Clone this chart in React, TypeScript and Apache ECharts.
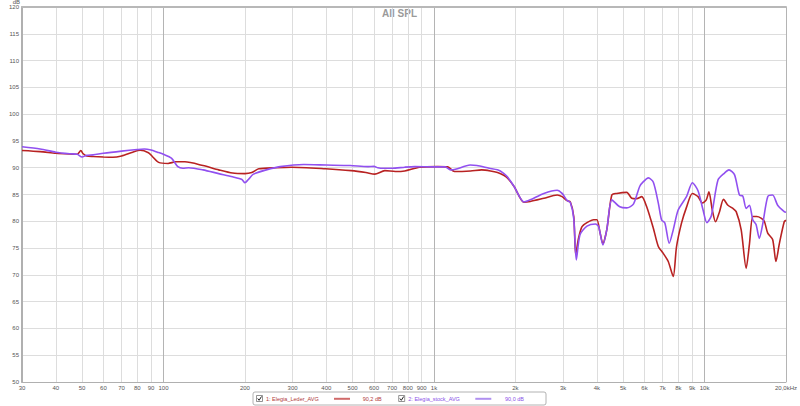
import React, { useEffect, useRef } from "react";
import * as echarts from "echarts";

// Tick frequencies and labels of the log frequency axis
const tickFreqs = [30, 40, 50, 60, 70, 80, 90, 100, 200, 300, 400, 500, 600, 700, 800, 900, 1000, 2000, 3000, 4000, 5000, 6000, 7000, 8000, 9000, 10000, 20000];
const tickLabels = ["30", "40", "50", "60", "70", "80", "90", "100", "200", "300", "400", "500", "600", "700", "800", "900", "1k", "2k", "3k", "4k", "5k", "6k", "7k", "8k", "9k", "10k", "20,0kHz"];
const decadeFreqs = [100, 1000, 10000, 20000];

// Series 1: Elegia_Leder_AVG
const lederFreq = [30, 35, 40, 45, 48, 49.5, 50.5, 52, 55, 60, 65, 70, 77, 82, 88, 91, 96, 104, 111, 120, 140, 160, 180, 200, 212, 225, 260, 297, 397, 494, 560, 604, 658, 720, 779, 884, 1032, 1124, 1190, 1365, 1500, 1617, 1717, 1810, 1867, 1977, 2151, 2268, 2547, 2852, 2975, 3103, 3191, 3285, 3340, 3420, 3524, 3676, 3892, 4002, 4104, 4209, 4354, 4541, 4737, 5158, 5381, 5613, 5856, 6112, 6467, 6747, 7037, 7342, 7660, 7875, 8214, 8573, 9017, 9460, 9810, 10150, 10380, 10680, 10980, 11360, 11750, 12200, 12730, 13090, 13660, 14250, 14650, 15080, 15590, 16170, 16630, 17120, 17850, 18360, 18880, 19700, 20000];
const lederDb = [93.2, 93.0, 92.7, 92.55, 92.5, 93.2, 92.6, 92.2, 92.1, 92.0, 91.95, 92.2, 92.9, 93.25, 92.8, 92.1, 91.0, 90.8, 91.1, 91.1, 90.4, 89.6, 89.0, 88.9, 89.1, 89.8, 90.0, 90.1, 89.8, 89.45, 89.1, 88.8, 89.45, 89.3, 89.4, 90.1, 90.2, 90.15, 89.3, 89.4, 89.6, 89.4, 89.1, 88.6, 88.1, 86.5, 83.55, 83.7, 84.3, 84.9, 84.6, 83.85, 83.6, 80.9, 73.8, 76.8, 79.0, 79.75, 80.3, 80.3, 78.0, 75.8, 78.5, 84.9, 85.2, 85.4, 84.3, 84.2, 84.6, 82.7, 78.7, 75.3, 74.0, 72.5, 69.7, 75.2, 79.6, 82.6, 85.2, 84.6, 83.4, 84.0, 85.5, 82.1, 79.9, 81.8, 84.1, 83.0, 82.4, 81.8, 78.4, 71.2, 75.7, 80.9, 80.9, 80.6, 80.0, 77.8, 76.6, 72.5, 75.7, 79.9, 80.2];

// Series 2: Elegia_stock_AVG
const stockFreq = [30, 35, 40, 45, 48, 50, 52, 55, 60, 70, 80, 85, 90, 95, 100, 107, 113, 118, 124, 140, 160, 180, 195, 200, 206, 215, 240, 270, 330, 400, 490, 570, 600, 620, 650, 700, 780, 850, 1000, 1100, 1150, 1200, 1360, 1440, 1600, 1717, 1810, 1867, 1977, 2151, 2268, 2547, 2852, 2975, 3103, 3191, 3285, 3357, 3464, 3676, 3950, 4060, 4209, 4354, 4541, 4860, 5158, 5458, 5757, 5942, 6200, 6467, 6747, 6937, 7134, 7404, 7660, 7988, 8573, 9017, 9460, 9874, 10200, 10590, 11210, 11850, 12310, 12900, 13460, 13850, 14250, 14650, 15080, 15500, 15940, 16410, 17120, 17850, 18630, 19700, 20000];
const stockDb = [93.9, 93.5, 92.9, 92.6, 92.5, 92.0, 92.3, 92.4, 92.7, 93.1, 93.4, 93.5, 93.3, 92.9, 92.5, 91.8, 90.2, 89.9, 90.0, 89.6, 88.9, 88.3, 87.8, 87.2, 87.8, 88.8, 89.6, 90.2, 90.6, 90.5, 90.4, 90.2, 90.25, 90.0, 89.9, 89.9, 90.1, 90.2, 90.15, 90.15, 89.6, 89.7, 90.5, 90.4, 89.9, 89.6, 88.95, 88.3, 86.5, 83.6, 84.0, 85.2, 85.8, 85.2, 83.9, 83.5, 80.5, 72.8, 77.5, 79.1, 79.5, 79.0, 75.6, 78.5, 84.0, 82.7, 82.5, 83.2, 86.5, 87.4, 88.1, 87.3, 83.4, 80.25, 79.7, 75.9, 78.4, 82.1, 84.6, 87.2, 85.7, 82.1, 79.75, 81.0, 87.7, 89.0, 89.6, 88.7, 84.9, 84.7, 82.4, 83.0, 80.25, 79.4, 76.8, 79.5, 84.6, 84.9, 83.0, 81.8, 81.7];

const legendNames = ["1: Elegia_Leder_AVG", "2: Elegia_stock_AVG"];
const legendValues = ["90,2 dB", "90,0 dB"];

const FONT = "Liberation Sans, Arial, sans-serif";

export default function App() {
  const ref = useRef<HTMLDivElement>(null);

  useEffect(() => {
    if (!ref.current) return;
    const chart = echarts.init(ref.current, null, { renderer: "svg" });
    const lg = Math.log10;
    const tickPos = tickFreqs.map(lg);
    const decadePos = decadeFreqs.map(lg);
    const xmin = lg(30);
    const xmax = lg(20000);

    const fmt = (v: number) => {
      let best = 0;
      let bd = Infinity;
      tickPos.forEach((p, i) => {
        const d = Math.abs(p - v);
        if (d < bd) { bd = d; best = i; }
      });
      return tickLabels[best];
    };

    const checkbox = (x: number, y: number) => [
      { type: "rect", shape: { x, y, width: 6, height: 6 }, style: { fill: "#fff", stroke: "#777", lineWidth: 0.8 } },
      { type: "polyline", shape: { points: [[x + 1.2, y + 3], [x + 2.6, y + 4.8], [x + 5, y + 1]] }, style: { fill: null, stroke: "#222", lineWidth: 1 } },
    ];

    const option: any = {
      animation: false,
      backgroundColor: "#fff",
      grid: { left: 22, right: 10, top: 7, bottom: 24, show: false },
      xAxis: [
        {
          type: "value",
          min: xmin,
          max: xmax,
          position: "bottom",
          axisLine: { show: true, onZero: false, lineStyle: { color: "#b0b0b0", width: 1 } },
          axisTick: { show: false, customValues: tickPos },
          axisLabel: { customValues: tickPos, formatter: fmt, fontSize: 6, color: "#555", margin: 3, fontFamily: FONT, showMinLabel: true, showMaxLabel: true },
          splitLine: { show: true, lineStyle: { color: "#dddddd", width: 1 } },
        },
        {
          type: "value",
          min: xmin,
          max: xmax,
          position: "top",
          axisLine: { show: true, onZero: false, lineStyle: { color: "#b8b8b8", width: 2 } },
          axisTick: { show: false, customValues: decadePos },
          axisLabel: { show: false },
          splitLine: { show: true, lineStyle: { color: "#b4b4b4", width: 1 } },
        },
      ],
      yAxis: {
        type: "value",
        min: 50,
        max: 120,
        interval: 5,
        axisLine: { show: true, onZero: false, lineStyle: { color: "#b0b0b0", width: 2 } },
        axisTick: { show: false },
        axisLabel: { fontSize: 6, color: "#555", margin: 3, fontFamily: FONT },
        splitLine: { show: true, lineStyle: { color: "#dddddd", width: 1 } },
      },
      series: [
        {
          type: "line",
          xAxisIndex: 0,
          showSymbol: false,
          smooth: 0.25,
          lineStyle: { color: "#b82222", width: 1.6 },
          data: lederFreq.map((f, i) => [lg(f), lederDb[i]]),
        },
        {
          type: "line",
          xAxisIndex: 0,
          showSymbol: false,
          smooth: 0.25,
          lineStyle: { color: "#9150f0", width: 1.6 },
          data: stockFreq.map((f, i) => [lg(f), stockDb[i]]),
        },
      ],
      graphic: [
        { type: "text", x: 399.5, y: 13, style: { text: "All SPL", font: `bold 10px ${FONT}`, fill: "#9a9a9a", align: "center", verticalAlign: "middle" } },
        { type: "text", x: 20, y: 2, style: { text: "dB", font: `6px ${FONT}`, fill: "#555", align: "right", verticalAlign: "middle" } },
        { type: "rect", shape: { x: 253, y: 392, width: 293, height: 13, r: 2 }, style: { fill: "#fff", stroke: "#a0a0a0", lineWidth: 0.8 } },
        ...checkbox(256.5, 395.5),
        { type: "text", x: 266, y: 398.8, style: { text: legendNames[0], font: `5.5px ${FONT}`, fill: "#b03a3a", verticalAlign: "middle" } },
        { type: "line", shape: { x1: 334, y1: 398.8, x2: 350, y2: 398.8 }, style: { stroke: "#d06a6a", lineWidth: 2 } },
        { type: "text", x: 362.7, y: 398.8, style: { text: legendValues[0], font: `5.5px ${FONT}`, fill: "#b03a3a", verticalAlign: "middle" } },
        ...checkbox(398.7, 395.5),
        { type: "text", x: 408.3, y: 398.8, style: { text: legendNames[1], font: `5.5px ${FONT}`, fill: "#8a50e8", verticalAlign: "middle" } },
        { type: "line", shape: { x1: 475.3, y1: 398.8, x2: 491.3, y2: 398.8 }, style: { stroke: "#b090f0", lineWidth: 2 } },
        { type: "text", x: 505, y: 398.8, style: { text: legendValues[1], font: `5.5px ${FONT}`, fill: "#8a50e8", verticalAlign: "middle" } },
      ],
    };
    chart.setOption(option);
    return () => chart.dispose();
  }, []);

  return (
    <div
      ref={ref}
      style={{ position: "fixed", left: 0, top: 0, width: 800, height: 406, background: "#fff" }}
    />
  );
}
